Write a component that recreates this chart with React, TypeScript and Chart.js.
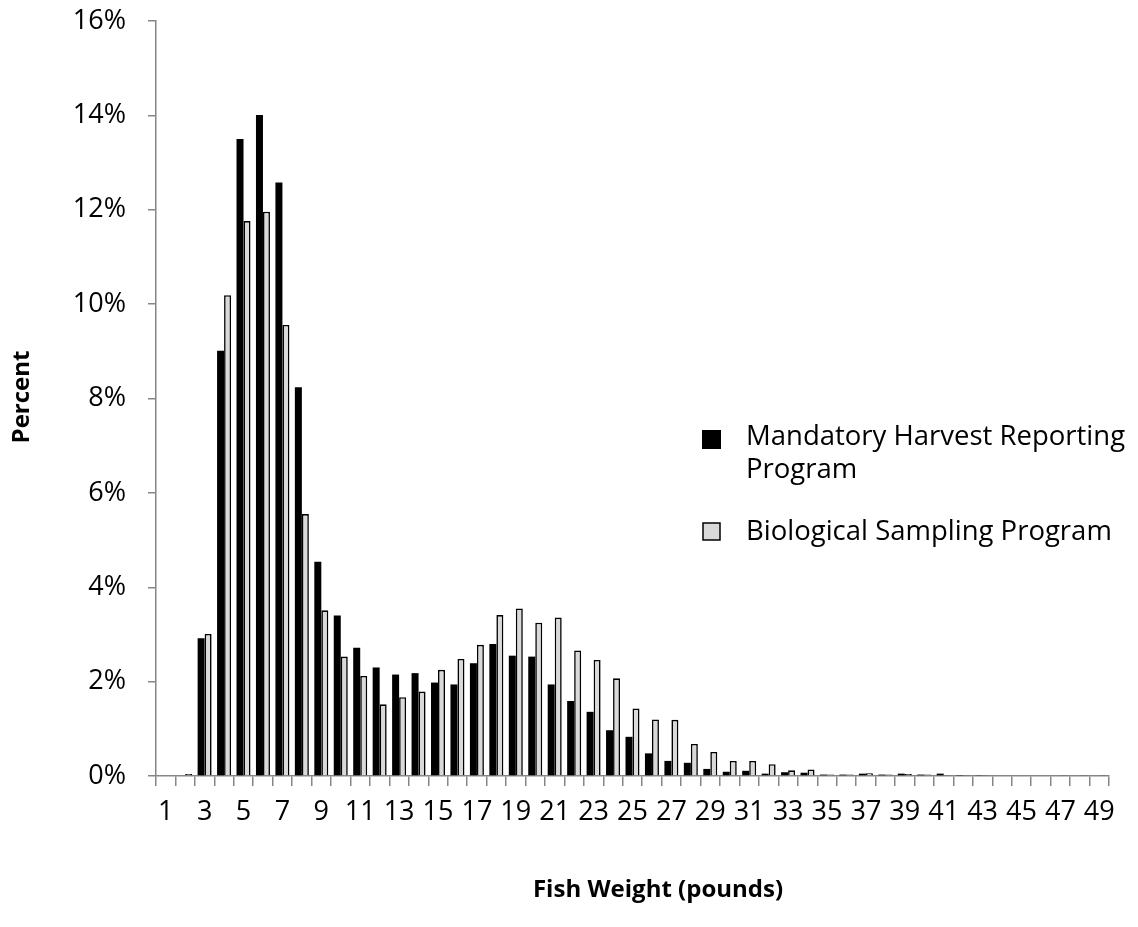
import React, { useEffect, useRef } from "react";
import { Chart, registerables } from "chart.js";

Chart.register(...registerables);

const categories: string[] = Array.from({ length: 49 }, (_, i) => String(i + 1));

const mandatoryHarvest: number[] = [
  0, 0, 2.92, 9.01, 13.5, 14.01, 12.58, 8.24, 4.54, 3.4,
  2.72, 2.3, 2.15, 2.18, 1.98, 1.94, 2.39, 2.8, 2.55, 2.53,
  1.94, 1.59, 1.36, 0.97, 0.83, 0.48, 0.32, 0.28, 0.15, 0.09,
  0.11, 0.05, 0.08, 0.07, 0.03, 0.03, 0.05, 0.03, 0.05, 0.03,
  0.05, 0.01, 0.02, 0, 0, 0, 0, 0, 0,
];

const biologicalSampling: number[] = [
  0, 0.04, 3.01, 10.19, 11.76, 11.96, 9.56, 5.55, 3.51, 2.53,
  2.12, 1.52, 1.67, 1.79, 2.25, 2.48, 2.78, 3.41, 3.55, 3.25,
  3.36, 2.66, 2.46, 2.07, 1.43, 1.2, 1.19, 0.68, 0.51, 0.32,
  0.32, 0.25, 0.12, 0.14, 0.03, 0.03, 0.06, 0.03, 0.04, 0.03,
  0.02, 0.02, 0.02, 0, 0, 0, 0.02, 0.02, 0.02,
];

const seriesLabels: string[][] = [
  ["Mandatory Harvest Reporting", "Program"],
  ["Biological Sampling Program"],
];

const yTickValues: number[] = [0, 2, 4, 6, 8, 10, 12, 14, 16];
const yTitle = "Percent";
const xTitle = "Fish Weight (pounds)";

const FONT = "'Open Sans', Lato, sans-serif";
const AXIS_GRAY = "#868686";

const overlayPlugin = {
  id: "overlay",
  afterDraw(chart: any) {
    const ctx = chart.ctx as CanvasRenderingContext2D;
    ctx.save();
    // axis titles
    ctx.fillStyle = "#000";
    ctx.font = `bold 24px ${FONT}`;
    ctx.textAlign = "center";
    ctx.textBaseline = "middle";
    ctx.save();
    ctx.translate(22, 397);
    ctx.rotate(-Math.PI / 2);
    ctx.fillText(yTitle, 0, 0);
    ctx.restore();
    ctx.fillText(xTitle, 658, 890);

    // legend
    ctx.textAlign = "left";
    ctx.textBaseline = "alphabetic";
    ctx.font = `27.5px ${FONT}`;
    // item 1
    ctx.fillStyle = "#000";
    ctx.fillRect(702, 430, 19, 19);
    ctx.fillText(seriesLabels[0][0], 746, 445);
    ctx.fillText(seriesLabels[0][1], 746, 478);
    // item 2
    ctx.fillStyle = "#d9d9d9";
    ctx.fillRect(703, 523, 17, 17);
    ctx.strokeStyle = "#000";
    ctx.lineWidth = 1.5;
    ctx.strokeRect(703, 523, 17, 17);
    ctx.fillStyle = "#000";
    ctx.fillText(seriesLabels[1][0], 746, 540);
    ctx.restore();
  },
};

export default function App() {
  const canvasRef = useRef<HTMLCanvasElement | null>(null);

  useEffect(() => {
    document.body.style.margin = "0";
    const canvas = canvasRef.current;
    if (!canvas) return;
    const chart = new Chart(canvas, {
      type: "bar",
      data: {
        labels: categories,
        datasets: [
          {
            label: seriesLabels[0].join(" "),
            data: mandatoryHarvest,
            backgroundColor: "#000000",
            borderWidth: 0,
            categoryPercentage: 0.72,
            barPercentage: 1,
          },
          {
            label: seriesLabels[1].join(" "),
            data: biologicalSampling,
            backgroundColor: "#d9d9d9",
            borderColor: "#000000",
            borderWidth: 1.6,
            categoryPercentage: 0.72,
            barPercentage: 1,
          },
        ],
      },
      options: {
        responsive: false,
        animation: false,
        layout: { padding: { top: 21, right: 29, left: 0, bottom: 0 } },
        plugins: {
          legend: { display: false },
          tooltip: { enabled: false },
          title: { display: false },
        },
        scales: {
          x: {
            offset: true,
            grid: {
              offset: true,
              drawOnChartArea: false,
              drawTicks: true,
              tickLength: 10,
              color: AXIS_GRAY,
              lineWidth: 1.5,
            },
            border: { display: true, color: AXIS_GRAY, width: 1.5 },
            ticks: {
              autoSkip: false,
              maxRotation: 0,
              minRotation: 0,
              padding: 10,
              color: "#000",
              font: { family: FONT, size: 27 },
              callback: (_v: any, i: number) => (i % 2 === 0 ? categories[i] : ""),
            },
            afterFit: (scale: any) => {
              scale.height = 151;
              scale.paddingLeft = 0;
              scale.paddingRight = 0;
            },
          },
          y: {
            min: 0,
            max: 16,
            afterBuildTicks: (scale: any) => {
              scale.ticks = yTickValues.map((v) => ({ value: v }));
            },
            grid: {
              drawOnChartArea: false,
              drawTicks: true,
              tickLength: 8,
              color: AXIS_GRAY,
              lineWidth: 1.5,
            },
            border: { display: true, color: AXIS_GRAY, width: 1.5 },
            ticks: {
              padding: 22,
              color: "#000",
              font: { family: FONT, size: 27 },
              callback: (v: any) => `${v}%`,
            },
            afterFit: (scale: any) => {
              scale.width = 156;
              scale.paddingTop = 0;
              scale.paddingBottom = 0;
            },
          },
        },
      },
      plugins: [overlayPlugin],
    });
    return () => chart.destroy();
  }, []);

  return (
    <div style={{ width: 1138, height: 927, background: "#fff" }}>
      <canvas ref={canvasRef} width={1138} height={927} />
    </div>
  );
}
